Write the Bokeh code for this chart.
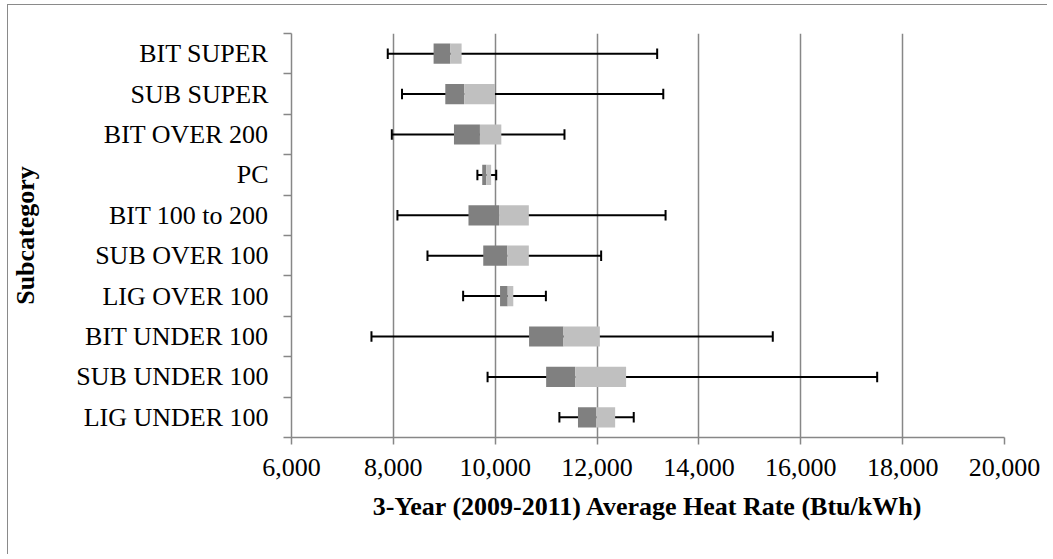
from bokeh.plotting import figure
from bokeh.models import Range1d, FixedTicker, NumeralTickFormatter
from bokeh.embed import file_html
from bokeh.resources import INLINE

# Data (bottom to top)
categories = ["LIG UNDER 100", "SUB UNDER 100", "BIT UNDER 100", "LIG OVER 100",
              "SUB OVER 100", "BIT 100 to 200", "PC", "BIT OVER 200",
              "SUB SUPER", "BIT SUPER"]
min_vals = [11260, 9850, 7570, 9370, 8670, 8080, 9650, 7970, 8170, 7890]
q1_vals = [11625, 11000, 10665, 10095, 9765, 9475, 9745, 9190, 9020, 8790]
median_vals = [11985, 11570, 11340, 10245, 10235, 10075, 9825, 9700, 9390, 9120]
q3_vals = [12355, 12570, 12055, 10355, 10660, 10660, 9920, 10120, 9995, 9340]
max_vals = [12720, 17500, 15450, 10995, 12080, 13345, 10020, 11360, 13300, 13180]
x_ticks = [6000, 8000, 10000, 12000, 14000, 16000, 18000, 20000]

FONT = "Liberation Serif"
GRAY = "#878787"

ys = [i + 0.5 for i in range(len(categories))]

p = figure(width=1040, height=550, output_backend="svg", toolbar_location=None,
           x_range=Range1d(6000, 20000), y_range=Range1d(0, len(categories)),
           min_border_top=28, min_border_right=44, min_border_left=282, min_border_bottom=118)
p.styles = {"border-left": "1px solid #8a8a8a", "border-top": "1px solid #8a8a8a",
            "margin-left": "7px", "margin-top": "4px"}
p.outline_line_color = None
p.background_fill_color = "white"
p.border_fill_color = "white"

# grid
p.ygrid.visible = False
p.xgrid.ticker = FixedTicker(ticks=x_ticks[1:])
p.xgrid.grid_line_color = GRAY
p.xgrid.grid_line_width = 1.5

# whiskers
p.segment(x0=min_vals, y0=ys, x1=max_vals, y1=ys, line_color="black", line_width=2)
p.segment(x0=min_vals, y0=[y - 0.13 for y in ys], x1=min_vals, y1=[y + 0.13 for y in ys],
          line_color="black", line_width=2)
p.segment(x0=max_vals, y0=[y - 0.13 for y in ys], x1=max_vals, y1=[y + 0.13 for y in ys],
          line_color="black", line_width=2)
# boxes
p.hbar(y=ys, left=q1_vals, right=median_vals, height=0.5, fill_color="#808080", line_color=None)
p.hbar(y=ys, left=median_vals, right=q3_vals, height=0.5, fill_color="#c0c0c0", line_color=None)

# x axis
xa = p.xaxis[0]
xa.ticker = FixedTicker(ticks=x_ticks)
xa.formatter = NumeralTickFormatter(format="0,0")
xa.axis_label = "3-Year (2009-2011) Average Heat Rate (Btu/kWh)"
xa.axis_label_text_font = FONT
xa.axis_label_text_font_style = "bold"
xa.axis_label_text_font_size = "26px"
xa.axis_label_text_color = "black"
xa.axis_label_standoff = 13
xa.major_label_text_font = FONT
xa.major_label_text_font_size = "26px"
xa.major_label_text_color = "black"
xa.major_label_standoff = 14
xa.major_tick_out = 7
xa.major_tick_in = 0
xa.minor_tick_out = 0
xa.minor_tick_in = 0
xa.axis_line_color = GRAY
xa.axis_line_width = 1.5
xa.major_tick_line_color = GRAY
xa.major_tick_line_width = 1.5

# y axis
ya = p.yaxis[0]
ya.ticker = FixedTicker(ticks=ys, minor_ticks=list(range(len(categories) + 1)))
ya.major_label_overrides = {y: c for y, c in zip(ys, categories)}
ya.axis_label = "Subcategory"
ya.axis_label_text_font = FONT
ya.axis_label_text_font_style = "bold"
ya.axis_label_text_font_size = "26px"
ya.axis_label_text_color = "black"
ya.axis_label_standoff = 33
ya.major_label_text_font = FONT
ya.major_label_text_font_size = "26px"
ya.major_label_text_color = "black"
ya.major_label_standoff = 15
ya.major_tick_line_color = None
ya.major_tick_out = 0
ya.major_tick_in = 0
ya.minor_tick_out = 8
ya.minor_tick_in = 0
ya.minor_tick_line_color = GRAY
ya.minor_tick_line_width = 1.5
ya.axis_line_color = GRAY
ya.axis_line_width = 1.5

open("out.html", "w").write(file_html(p, INLINE))
